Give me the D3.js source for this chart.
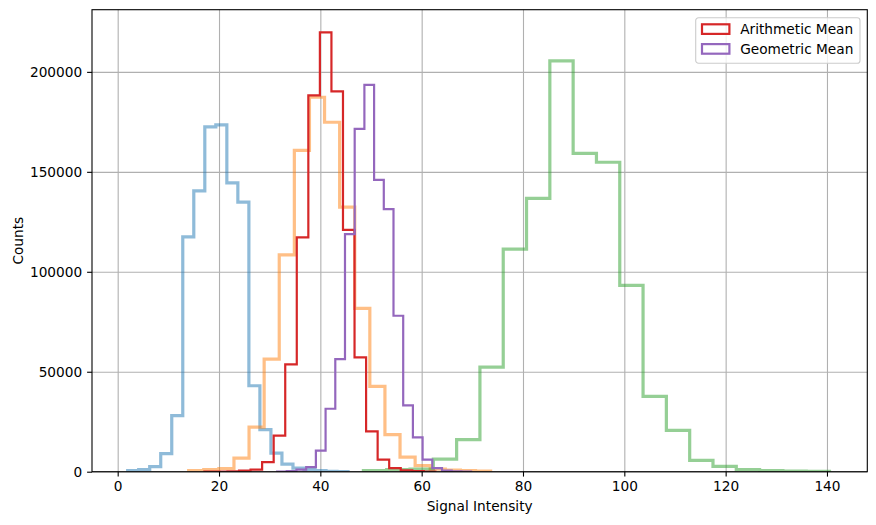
<!DOCTYPE html>
<html>
<head>
<meta charset="utf-8">
<script src="https://cdn.jsdelivr.net/npm/d3@7"></script>
<style>
  body { margin: 0; background: #fff; }
  text { font-family: "DejaVu Sans", sans-serif; }
</style>
</head>
<body>
<script>
// histogram data: [first edge, last edge] of the 20 bins, and counts per bin
var blueRange = [1.97, 45.47];
var blueCounts = [500, 1000, 2500, 9000, 28000, 117500, 140500, 172500, 173500, 144500,
                  134800, 43000, 21000, 9300, 3800, 1800, 1000, 500, 200, 100];

var orangeRange = [14.01, 73.61];
var orangeCounts = [500, 1000, 1600, 6800, 22300, 56300, 108500, 160700, 187300, 174800,
                    132300, 81700, 42700, 18500, 7300, 3000, 1300, 800, 500, 300];

var greenRange = [48.5, 140.5];
var greenCounts = [500, 1000, 1300, 6300, 16000, 52300, 111300, 136700, 205500, 159200,
                   154800, 93200, 37700, 20700, 5700, 2700, 1000, 500, 300, 200];

var arithRange = [17.11, 62.71];
var arithCounts = [50, 100, 200, 500, 1000, 4800, 18000, 53700, 117200, 188200,
                   219800, 190200, 121000, 57200, 20200, 6000, 1800, 700, 300, 100];

var geoRange = [31.46, 69.76];
var geoCounts = [100, 300, 1000, 2300, 10500, 31500, 56300, 118800, 171500, 193500,
                 146000, 131300, 78000, 33200, 17200, 6000, 1800, 500, 200, 100];

var xTicks = [0, 20, 40, 60, 80, 100, 120, 140];
var yTicks = [0, 50000, 100000, 150000, 200000];
var legendLabels = ["Arithmetic Mean", "Geometric Mean"];

var width = 876,
    height = 525,
    margin = {top: 9.7, right: 8.7, bottom: 53.3, left: 92};
var innerW = width - margin.left - margin.right,
    innerH = height - margin.top - margin.bottom;

var svg = d3.select("body")
    .append("svg")
    .attr("width", width)
    .attr("height", height);

var g = svg.append("g")
    .attr("transform", "translate(" + margin.left + "," + margin.top + ")");

var x = d3.scaleLinear().domain([-5.07, 147.96]).range([0, innerW]);
var y = d3.scaleLinear().domain([0, 231100]).range([innerH, 0]);

//grid
g.append("g")
    .attr("class", "grid")
    .attr("transform", "translate(0," + innerH + ")")
    .call(d3.axisBottom(x).tickValues(xTicks).tickSize(-innerH).tickFormat(""));
g.append("g")
    .attr("class", "grid")
    .call(d3.axisLeft(y).tickValues(yTicks).tickSize(-innerW).tickFormat(""));
g.selectAll(".grid .domain").remove();
g.selectAll(".grid line").attr("stroke", "#b0b0b0").attr("stroke-width", 1.1);

//clip to the axes area
svg.append("clipPath").attr("id", "plotclip")
  .append("rect").attr("width", innerW).attr("height", innerH);

//step outline of a histogram
function stepPoints(range, counts){
    var w = (range[1] - range[0]) / counts.length;
    var pts = [[range[0], 0]];
    counts.forEach(function(c, i){
        pts.push([range[0] + i * w, c]);
        pts.push([range[0] + (i + 1) * w, c]);
    });
    pts.push([range[1], 0]);
    return pts;
}

var line = d3.line()
    .x(function(d){ return x(d[0]); })
    .y(function(d){ return y(d[1]); });

var series = [
    {range: blueRange, counts: blueCounts, color: "#1f77b4", width: 3.2, opacity: 0.5},
    {range: orangeRange, counts: orangeCounts, color: "#ff7f0e", width: 3.2, opacity: 0.5},
    {range: greenRange, counts: greenCounts, color: "#2ca02c", width: 3.2, opacity: 0.5},
    {range: arithRange, counts: arithCounts, color: "#d62728", width: 2.2, opacity: 1},
    {range: geoRange, counts: geoCounts, color: "#9467bd", width: 2.2, opacity: 1}
];

g.append("g")
    .attr("clip-path", "url(#plotclip)")
    .selectAll("path")
    .data(series)
    .enter()
    .append("path")
    .attr("d", function(d){ return line(stepPoints(d.range, d.counts)); })
    .attr("fill", "none")
    .attr("stroke", function(d){ return d.color; })
    .attr("stroke-width", function(d){ return d.width; })
    .attr("stroke-opacity", function(d){ return d.opacity; })
    .attr("stroke-linejoin", "miter");

//axes
var xAxis = g.append("g")
    .attr("transform", "translate(0," + innerH + ")")
    .call(d3.axisBottom(x).tickValues(xTicks).tickSize(4.9).tickPadding(4.2).tickFormat(d3.format("d")));
var yAxis = g.append("g")
    .call(d3.axisLeft(y).tickValues(yTicks).tickSize(4.9).tickPadding(4.9).tickFormat(d3.format("d")));
[xAxis, yAxis].forEach(function(a){
    a.select(".domain").remove();
    a.selectAll("line").attr("stroke", "#000").attr("stroke-width", 1.1);
    a.selectAll("text").attr("fill", "#000").style("font-size", "13.7px")
        .style("font-family", "'DejaVu Sans', sans-serif");
});

//spines
g.append("rect")
    .attr("width", innerW)
    .attr("height", innerH)
    .attr("fill", "none")
    .attr("stroke", "#000")
    .attr("stroke-width", 1.1);

//axis labels
svg.append("text")
    .attr("x", margin.left + innerW / 2)
    .attr("y", 511)
    .attr("text-anchor", "middle")
    .style("font-size", "13.7px")
    .text("Signal Intensity");
svg.append("text")
    .attr("transform", "translate(22.5," + (margin.top + innerH / 2) + ") rotate(-90)")
    .attr("text-anchor", "middle")
    .style("font-size", "13.7px")
    .text("Counts");

//legend
var legend = svg.append("g").attr("transform", "translate(695.7,17.7)");
legend.append("rect")
    .attr("width", 164.3)
    .attr("height", 45.6)
    .attr("rx", 2.8)
    .attr("fill", "#fff")
    .attr("fill-opacity", 0.8)
    .attr("stroke", "#cccccc")
    .attr("stroke-width", 1.1);
var items = legend.selectAll(".item")
    .data(legendLabels)
    .enter()
    .append("g")
    .attr("class", "item")
    .attr("transform", function(d, i){ return "translate(0," + (i * 19.8) + ")"; });
items.append("rect")
    .attr("x", 6.3)
    .attr("y", 6.6)
    .attr("width", 27.4)
    .attr("height", 9.6)
    .attr("fill", "none")
    .attr("stroke", function(d, i){ return series[3 + i].color; })
    .attr("stroke-width", 2.2);
items.append("text")
    .attr("x", 44.5)
    .attr("y", 16.4)
    .style("font-size", "13.7px")
    .text(function(d){ return d; });
</script>
</body>
</html>
